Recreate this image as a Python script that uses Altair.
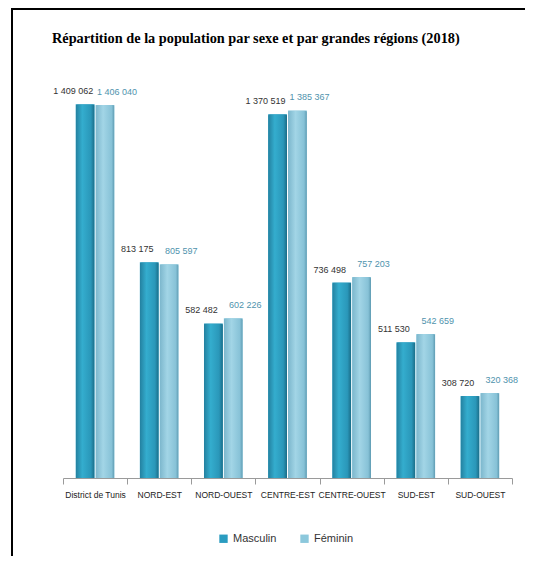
import altair as alt
import pandas as pd

regions = ["District de Tunis", "NORD-EST", "NORD-OUEST", "CENTRE-EST",
           "CENTRE-OUEST", "SUD-EST", "SUD-OUEST"]
masculin = [1409062, 813175, 582482, 1370519, 736498, 511530, 308720]
feminin = [1406040, 805597, 602226, 1385367, 757203, 542659, 320368]
sexes = ["Masculin", "Féminin"]

rows = []
for r, m, f in zip(regions, masculin, feminin):
    rows.append({"region": r, "sexe": "Masculin", "pop": m})
    rows.append({"region": r, "sexe": "Féminin", "pop": f})
df = pd.DataFrame(rows)

x_enc = alt.X("region:N", sort=regions, title=None,
              scale=alt.Scale(paddingInner=0, paddingOuter=0),
              axis=alt.Axis(labelAngle=0, labelOverlap=False, labelLimit=0,
                            tickBand="extent", domainColor="#9a9a9a",
                            tickColor="#9a9a9a", tickSize=6, labelPadding=6,
                            labelFont="Liberation Sans", labelFontSize=8.5,
                            labelColor="#222222"))
xo_enc = alt.XOffset("sexe:N", sort=sexes,
                     scale=alt.Scale(domain=sexes, paddingOuter=0.64, paddingInner=0.05))
y_enc = alt.Y("pop:Q", axis=None, scale=alt.Scale(domain=[0, 1500000], nice=False))

base = alt.Chart(df)

bars = base.mark_bar().encode(
    x=x_enc, xOffset=xo_enc, y=y_enc,
    color=alt.Color("sexe:N", sort=sexes,
                    scale=alt.Scale(domain=sexes, range=["#2a9cc0", "#8cc8dc"]),
                    legend=alt.Legend(title=None, orient="none", direction="horizontal",
                                      legendX=155, legendY=453, symbolType="square",
                                      symbolSize=70, symbolStrokeWidth=0,
                                      labelFont="Liberation Sans", labelFontSize=11,
                                      labelColor="#333333", columnPadding=22)),
)

grad_m = alt.LinearGradient(gradient="linear", x1=0, x2=1, y1=0, y2=0, stops=[
    alt.GradientStop(color="#23809f", offset=0),
    alt.GradientStop(color="#34adce", offset=0.35),
    alt.GradientStop(color="#2a97b9", offset=0.8),
    alt.GradientStop(color="#1a6c87", offset=1)])
grad_f = alt.LinearGradient(gradient="linear", x1=0, x2=1, y1=0, y2=0, stops=[
    alt.GradientStop(color="#7bb6cc", offset=0),
    alt.GradientStop(color="#a2d5e6", offset=0.4),
    alt.GradientStop(color="#87c2d7", offset=0.85),
    alt.GradientStop(color="#5e9bb2", offset=1)])

over_m = base.transform_filter(alt.datum.sexe == "Masculin").mark_bar(
    fill=grad_m, cornerRadiusTopLeft=2, cornerRadiusTopRight=2).encode(
    x=x_enc, xOffset=xo_enc, y=y_enc)
over_f = base.transform_filter(alt.datum.sexe == "Féminin").mark_bar(
    fill=grad_f, cornerRadiusTopLeft=2, cornerRadiusTopRight=2).encode(
    x=x_enc, xOffset=xo_enc, y=y_enc)

lab_expr = "replace(format(datum.pop, ','), /,/g, ' ')"
txt_m = base.transform_filter(alt.datum.sexe == "Masculin").transform_calculate(
    lab=lab_expr).mark_text(dy=-13, dx=-12, font="Liberation Sans", fontSize=9,
                            color="#333333").encode(
    x=x_enc, xOffset=xo_enc, y=y_enc, text="lab:N")
txt_f = base.transform_filter(alt.datum.sexe == "Féminin").transform_calculate(
    lab=lab_expr).mark_text(dy=-13, dx=12, font="Liberation Sans", fontSize=9,
                            color="#4f93ad").encode(
    x=x_enc, xOffset=xo_enc, y=y_enc, text="lab:N")

frame = alt.Chart(pd.DataFrame({"k": [0]})).mark_rect(
    fill="transparent", stroke="#000000", strokeWidth=2).encode(
    x=alt.value(-51), x2=alt.value(520), y=alt.value(-71), y2=alt.value(520))

chart = alt.layer(frame, bars, over_m, over_f, txt_m, txt_f).properties(
    width=449, height=398,
    background="white",
    autosize=alt.AutoSizeParams(type="none"),
    padding={"left": 55, "top": 72, "right": 13, "bottom": 78},
    title=alt.TitleParams("Répartition de la population par sexe et par grandes régions (2018)",
                          anchor="start", dx=41, offset=0, dy=38, font="Liberation Serif",
                          fontSize=14.3, fontWeight="bold", color="#000000"),
).configure_view(stroke=None)

chart.save("out.html", embed_options={"renderer": "svg", "actions": False})
